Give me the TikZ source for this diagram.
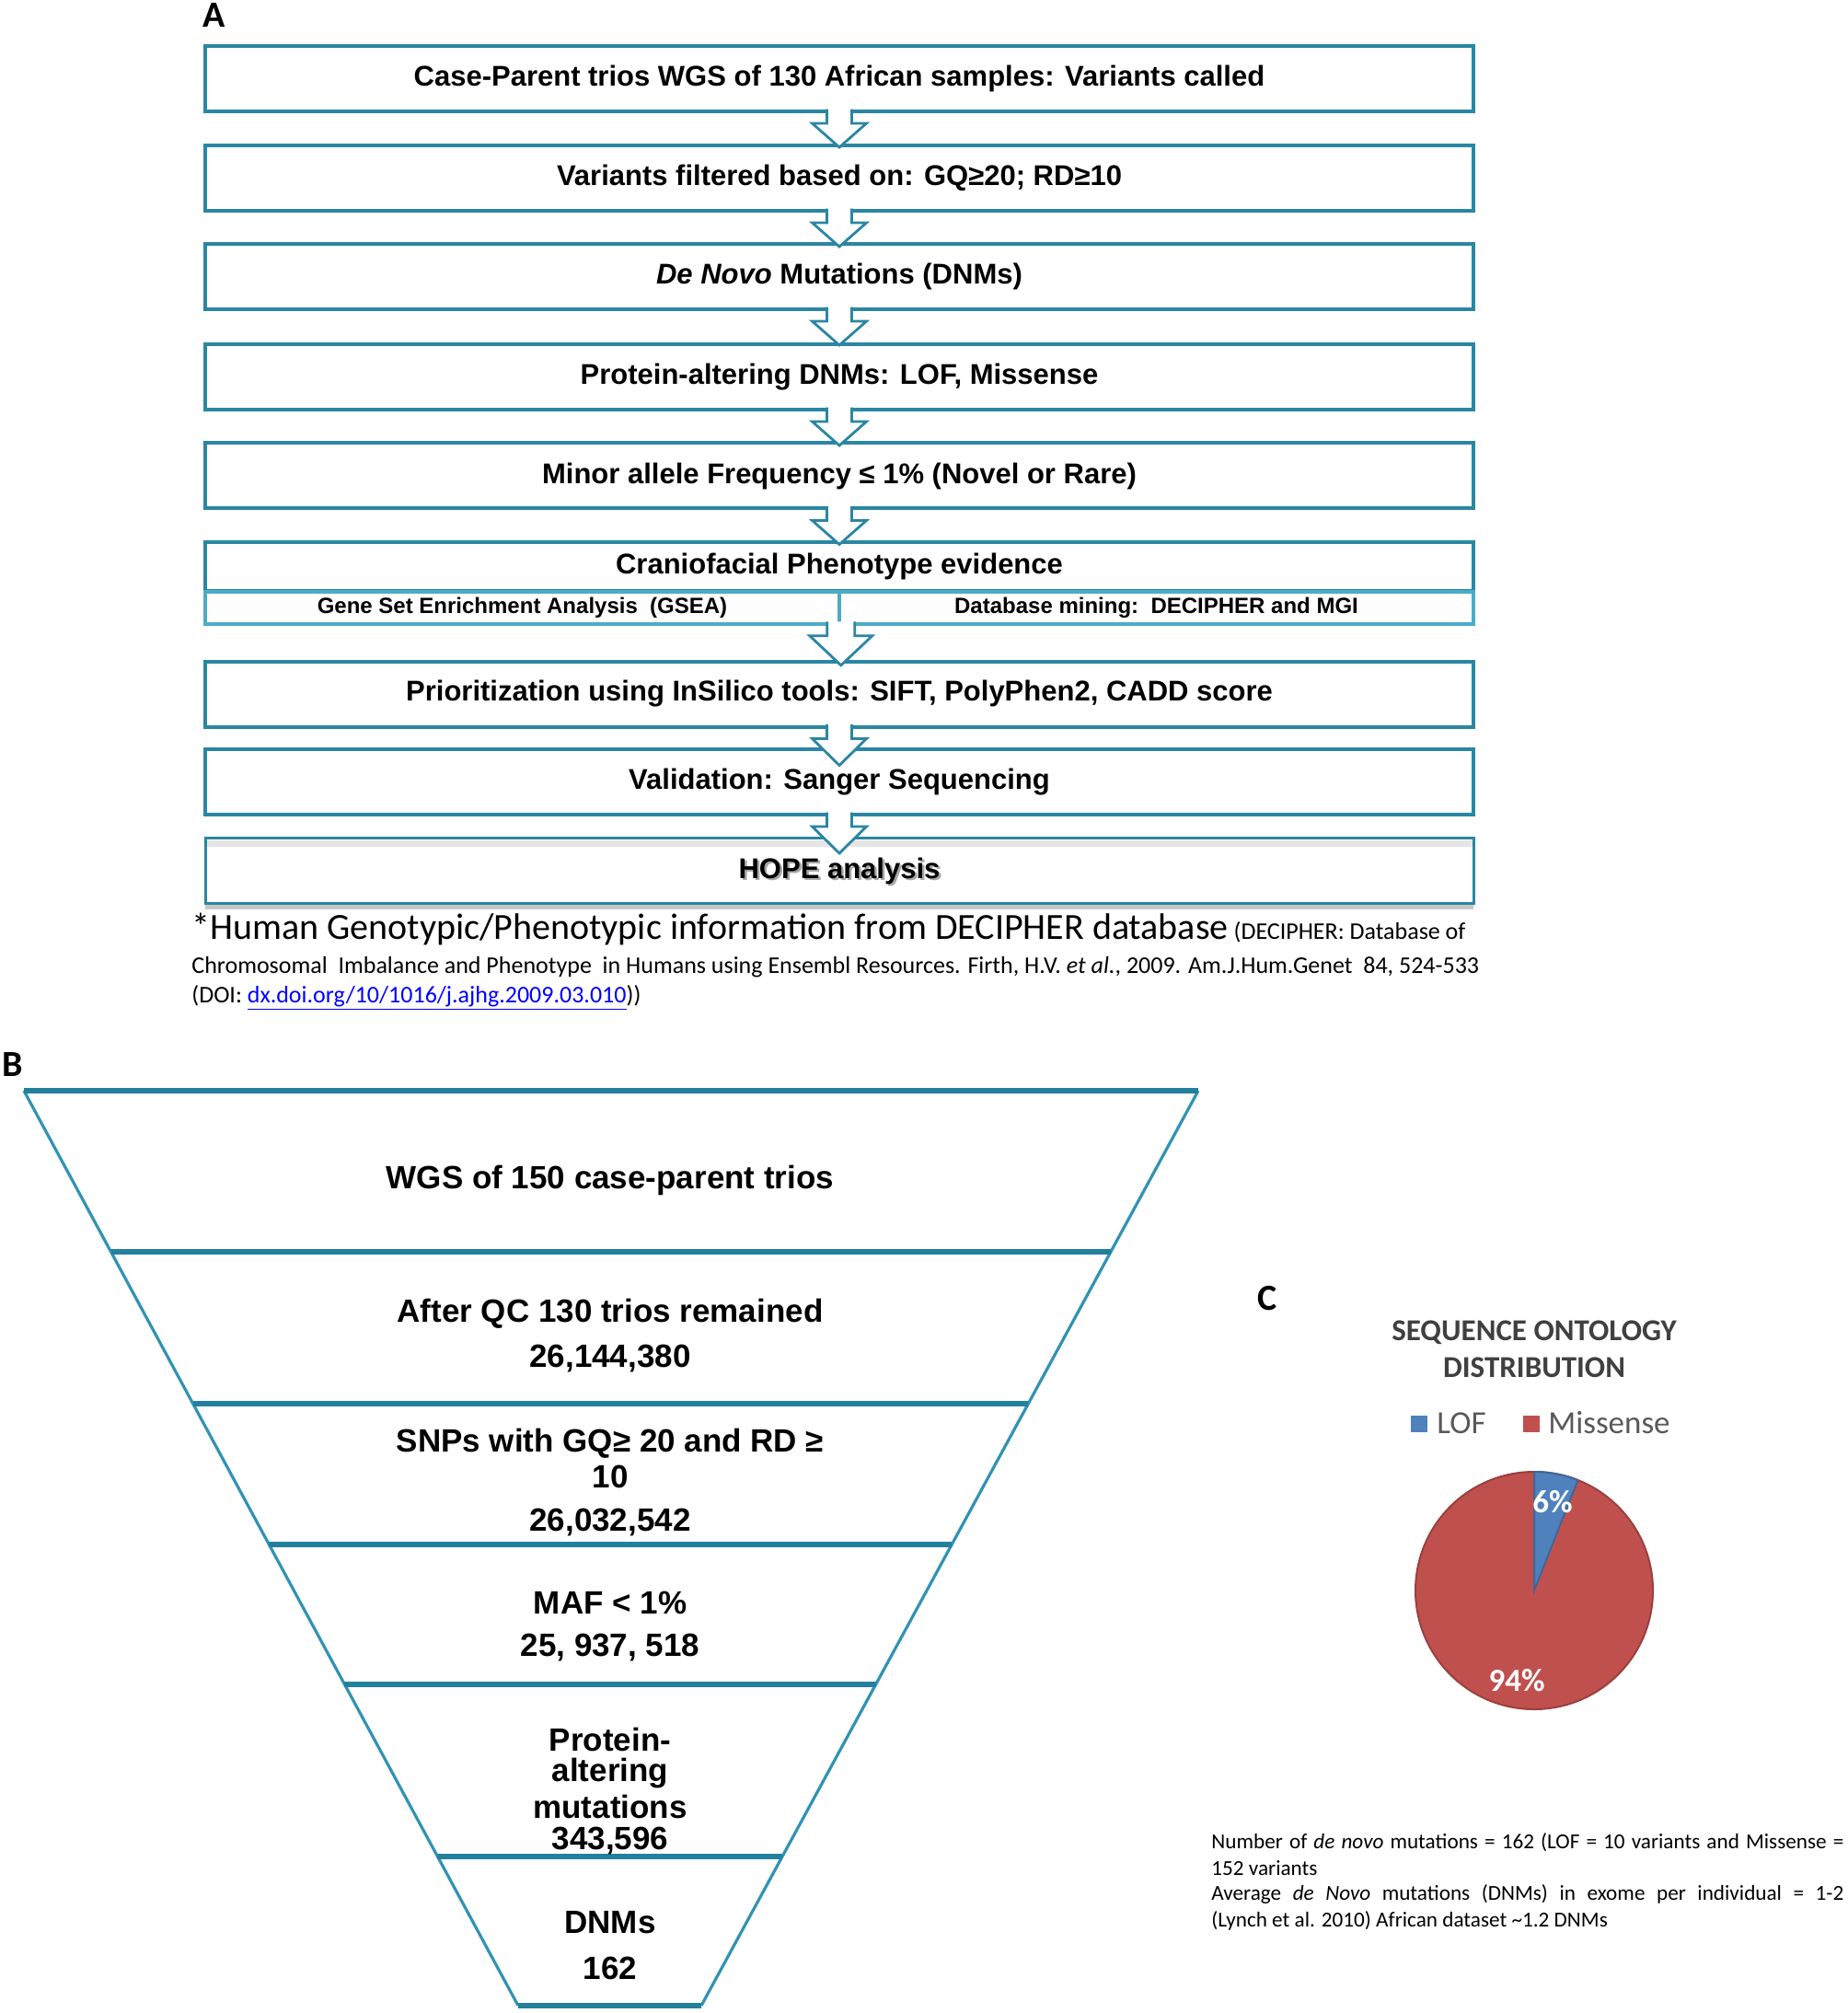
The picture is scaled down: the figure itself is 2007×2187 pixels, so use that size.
\documentclass[tikz,border=0pt]{standalone}
\usepackage{fontspec}
\setmainfont{Liberation Sans}
\newfontfamily\calib{Carlito}
\usetikzlibrary{calc}
\definecolor{tealA}{HTML}{2A86A3}
\definecolor{tealB}{HTML}{4BACC6}
\definecolor{tealF}{HTML}{23809D}
\definecolor{tealS}{HTML}{3193B3}
\definecolor{lofblue}{HTML}{4F81BD}
\definecolor{misred}{HTML}{C0504D}
\definecolor{titlegray}{HTML}{404040}
\definecolor{leggray}{HTML}{595959}
% #1 from anchor, #2 to anchor (for x only), #3 shaft half width, #4 head half width, #5 tip distance
\newcommand{\flowarr}[5]{%
  \fill[white] let \p1=(#1), \p2=(#2) in
    (\x1-#3,\y1+2.2pt) -- (\x1-#3,\y1-5.5pt) -- (\x1-#4,\y1-5.5pt) -- (\x1,\y1-#5)
    -- (\x1+#4,\y1-5.5pt) -- (\x1+#3,\y1-5.5pt) -- (\x1+#3,\y1+2.2pt) -- cycle;
  \draw[flowline] let \p1=(#1), \p2=(#2) in
    (\x1-#3,\y1+2.2pt) -- (\x1-#3,\y1-5.5pt) -- (\x1-#4,\y1-5.5pt) -- (\x1,\y1-#5)
    -- (\x1+#4,\y1-5.5pt) -- (\x1+#3,\y1-5.5pt) -- (\x1+#3,\y1+2.2pt);
}
\begin{document}
\begin{tikzpicture}[x=0.5pt,y=-0.5pt,
  abox/.style={draw=tealA, line width=2pt, minimum width=689pt, minimum height=35.5pt,
    inner sep=0pt, font=\bfseries\fontsize{15.5}{18}\selectfont},
  sbox/.style={draw=tealB, line width=1.8pt, minimum width=344.5pt, minimum height=17.5pt,
    inner sep=0pt, font=\bfseries\fontsize{12}{14}\selectfont},
  flowline/.style={draw=tealA, line width=1.4pt, line join=miter},
  lbl/.style={font=\calib\bfseries\fontsize{20}{24}\selectfont, inner sep=0pt},
  fside/.style={draw=tealS, line width=1.6pt},
  fhor/.style={draw=tealF, line width=3pt},
  ftext/.style={font=\bfseries\fontsize{17.5}{20}\selectfont, inner sep=0pt},
  note/.style={font=\calib\fontsize{13}{15}\selectfont, inner sep=0pt, anchor=base west},
  ctext/.style={font=\calib\fontsize{11.6}{13}\selectfont, inner sep=0pt, anchor=west},
  pielbl/.style={font=\calib\bfseries\fontsize{17.5}{20}\selectfont, text=white, inner sep=0pt}
]
\path[use as bounding box, fill=white] (0,0) rectangle (2007,2187);

% ---------------- Panel A ----------------
\node[lbl] (labA) at (233,17) {A};
\node[abox] (b1) at (912,85.5) {Case-Parent trios WGS of 130 African samples: Variants called};
\node[abox] (b2) at (912,193.5) {Variants filtered based on: GQ≥20; RD≥10};
\node[abox] (b3) at (912,300.5) {\textit{De Novo} Mutations (DNMs)};
\node[abox] (b4) at (912,409.5) {Protein-altering DNMs: LOF, Missense};
\node[abox] (b5) at (912,517) {Minor allele Frequency ≤ 1\% (Novel or Rare)};
\node[abox, minimum height=26.5pt] (b6) at (912,615) {Craniofacial Phenotype evidence};
\node[sbox] (gsea) at (567.5,660.5) {Gene Set Enrichment Analysis\ \ (GSEA)};
\node[sbox] (dbm) at (1256.5,660.5) {Database mining:\ \ DECIPHER and MGI};
\node[abox] (b7) at (912,754) {Prioritization using InSilico tools: SIFT, PolyPhen2, CADD score};
\node[abox] (b8) at (912,849.5) {Validation: Sanger Sequencing};
\fill[black!22] (223,983) rectangle (1601,988);
\fill[black!10] (223,913) rectangle (1601,920);
\node[font=\bfseries\fontsize{15.5}{18}\selectfont, text=black!35, inner sep=0pt] (b9sh) at (914.5,948.5) {HOPE analysis};
\node[abox, line width=1.5pt] (b9) at (912,946) {HOPE analysis};

\flowarr{b1.south}{b2.north}{6.75pt}{14.75pt}{18.5pt}
\flowarr{b2.south}{b3.north}{6.75pt}{14.75pt}{18.5pt}
\flowarr{b3.south}{b4.north}{6.75pt}{14.75pt}{18.5pt}
\flowarr{b4.south}{b5.north}{6.75pt}{14.75pt}{18.5pt}
\flowarr{b5.south}{b6.north}{6.75pt}{14.75pt}{18.5pt}
\flowarr{gsea.south east}{b7.north}{7.5pt}{17pt}{21.5pt}
\flowarr{b7.south}{b8.north}{6.75pt}{14.75pt}{20pt}
\flowarr{b8.south}{b9.north}{6.75pt}{14.75pt}{20pt}

\node[note] (fn1) at (208,1020) {{\fontsize{20}{23}\selectfont *Human Genotypic/Phenotypic information from DECIPHER database}\ (DECIPHER: Database of};
\node[note] (fn2) at (208,1057) {Chromosomal\ \ Imbalance and Phenotype\ \ in Humans using Ensembl Resources. Firth, H.V. \textit{et al.}, 2009. Am.J.Hum.Genet\ \ 84, 524-533};
\node[note] (fn3) at (208,1089) {(DOI: \textcolor{blue}{\underline{dx.doi.org/10/1016/j.ajhg.2009.03.010}}))};

% ---------------- Panel B ----------------
\node[lbl] (labB) at (14,1157) {B};
\coordinate (L0) at (26,1185);    \coordinate (R0) at (1302,1185);
\coordinate (L1) at (120.5,1360); \coordinate (R1) at (1207,1360);
\coordinate (L2) at (209.7,1525); \coordinate (R2) at (1117.3,1525);
\coordinate (L3) at (292.3,1678); \coordinate (R3) at (1034.2,1678);
\coordinate (L4) at (374.4,1830); \coordinate (R4) at (951.6,1830);
\coordinate (L5) at (475.4,2017); \coordinate (R5) at (850,2017);
\coordinate (L6) at (563,2179);   \coordinate (R6) at (762,2179);
\draw[fside] (L0) -- (L6);
\draw[fside] (R0) -- (R6);
\foreach \i in {0,...,6} { \draw[fhor] (L\i) -- (R\i); }

\node[ftext] (t1) at (663,1282) {WGS of 150 case-parent trios};
\node[ftext] (t2a) at (663,1427) {After QC 130 trios remained};
\node[ftext] (t2b) at (663,1476) {26,144,380};
\node[ftext] (t3a) at (663,1568) {SNPs with GQ≥ 20 and RD ≥};
\node[ftext] (t3b) at (663,1604) {10};
\node[ftext] (t3c) at (663,1654) {26,032,542};
\node[ftext] (t4a) at (663,1741) {MAF < 1\%};
\node[ftext] (t4b) at (663,1790) {25, 937, 518};
\node[ftext] (t5a) at (663,1890) {Protein-};
\node[ftext] (t5b) at (663,1927) {altering};
\node[ftext] (t5c) at (663,1963) {mutations};
\node[ftext] (t5d) at (663,2000) {343,596};
\node[ftext] (t6a) at (663,2089) {DNMs};
\node[ftext] (t6b) at (663,2138) {162};

% ---------------- Panel C ----------------
\node[lbl] (labC) at (1377,1411) {C};
\node[font=\calib\bfseries\fontsize{16.5}{19}\selectfont, text=titlegray, inner sep=0pt] (ct1) at (1667,1448) {SEQUENCE ONTOLOGY};
\node[font=\calib\bfseries\fontsize{16.5}{19}\selectfont, text=titlegray, inner sep=0pt] (ct2) at (1667,1486) {DISTRIBUTION};
\node[fill=lofblue, minimum size=9pt, inner sep=0pt] (lsq1) at (1542,1547) {};
\node[font=\calib\fontsize{17.5}{20}\selectfont, text=leggray, inner sep=0pt, anchor=west] (lg1) at (1561,1546) {LOF};
\node[fill=misred, minimum size=9pt, inner sep=0pt] (lsq2) at (1664,1547) {};
\node[font=\calib\fontsize{17.5}{20}\selectfont, text=leggray, inner sep=0pt, anchor=west] (lg2) at (1682,1546) {Missense};

\coordinate (pc) at (1667,1728);
\fill[misred, draw=misred!80!black, line width=1pt] (pc) circle[radius=64.5pt];
\fill[lofblue, draw=lofblue!80!black, line width=1pt] (pc) -- ++(90:64.5pt) arc[start angle=90, end angle=68.4, radius=64.5pt] -- cycle;
\node[pielbl] (p6) at (1687,1632) {6\%};
\node[pielbl] (p94) at (1648,1826) {94\%};

\node[ctext] (n1) at (1316,2002) {\makebox[343.5pt][s]{Number of \textit{de novo} mutations = 162 (LOF = 10 variants and Missense =}};
\node[ctext] (n2) at (1316,2030) {152 variants};
\node[ctext] (n3) at (1316,2058) {\makebox[343.5pt][s]{Average \textit{de Novo} mutations (DNMs) in exome per individual = 1-2}};
\node[ctext] (n4) at (1316,2087) {(Lynch et al. 2010) African dataset \textasciitilde1.2 DNMs};
\end{tikzpicture}
\end{document}
